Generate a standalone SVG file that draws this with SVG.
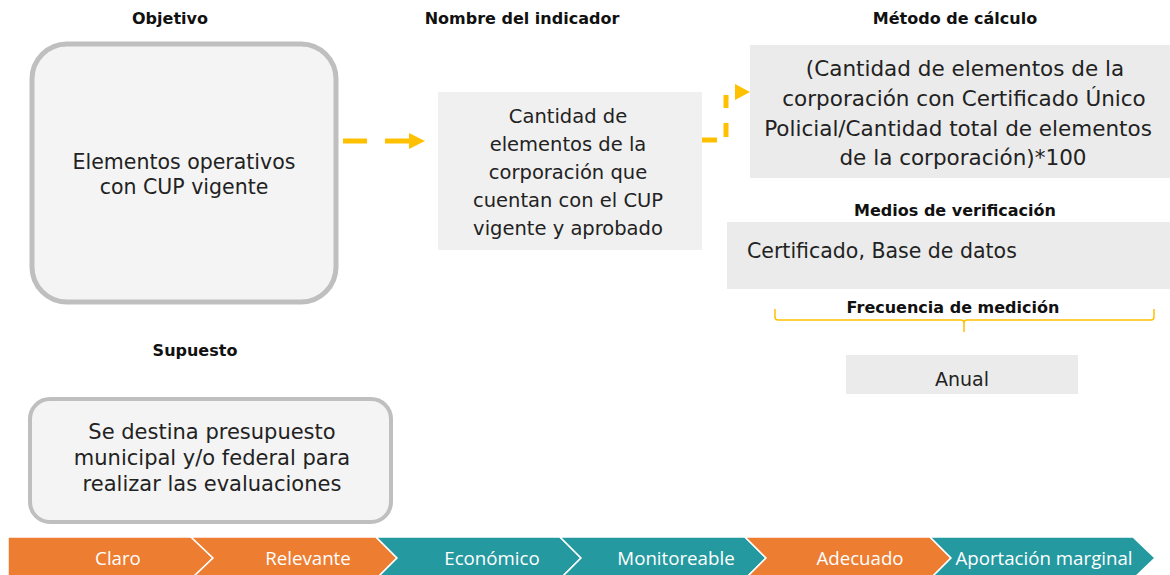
<svg xmlns="http://www.w3.org/2000/svg" width="1170" height="575" viewBox="0 0 1170 575">
<style>
.h{font-family:"DejaVu Sans","Liberation Sans",sans-serif;font-weight:bold;font-size:16px;fill:#111;text-anchor:middle}
.t{font-family:"DejaVu Sans","Liberation Sans",sans-serif;font-size:19.5px;fill:#222;text-anchor:middle}
.c{font-family:"Open Sans","Liberation Sans",sans-serif;font-size:18.7px;fill:#fff;text-anchor:middle}
.rbox{fill:#f4f4f4;stroke:#bfbfbf;stroke-width:5}
.conn{stroke:#FFC000;stroke-width:5;fill:none}
.orange{fill:#ED7D31;stroke:#fff;stroke-width:1.5}
.teal{fill:#2599A0;stroke:#fff;stroke-width:1.5}
</style>
<rect width="1170" height="575" fill="#fff"/>

<g id="objetivo">
<text class="h" x="170" y="24">Objetivo</text>
<rect class="rbox" x="32" y="44" width="304" height="258" rx="35"/>
<text class="t" x="184" y="169" style="font-size:20.5px">Elementos operativos</text>
<text class="t" x="184" y="194" style="font-size:20.5px">con CUP vigente</text>
</g>

<g id="indicador">
<text class="h" x="522" y="24">Nombre del indicador</text>
<rect x="438" y="92" width="264" height="158" fill="#f0f0f0"/>
<text class="t" x="568" y="123">Cantidad de</text>
<text class="t" x="568" y="151">elementos de la</text>
<text class="t" x="568" y="179">corporación que</text>
<text class="t" x="568" y="207">cuentan con el CUP</text>
<text class="t" x="568" y="235">vigente y aprobado</text>
</g>

<g id="metodo">
<text class="h" x="955" y="24">Método de cálculo</text>
<rect x="750" y="45" width="420" height="133" fill="#ebebeb"/>
<text class="t" x="965" y="76" style="font-size:21.5px">(Cantidad de elementos de la</text>
<text class="t" x="964" y="106" style="font-size:21.5px">corporación con Certificado Único</text>
<text class="t" x="958" y="136" style="font-size:21.5px">Policial/Cantidad total de elementos</text>
<text class="t" x="963" y="165" style="font-size:21.5px">de la corporación)*100</text>
</g>

<g id="medios">
<text class="h" x="955" y="216">Medios de verificación</text>
<rect x="727" y="222" width="443" height="67" fill="#ebebeb"/>
<text class="t" x="747" y="258" style="text-anchor:start;font-size:20.5px">Certificado, Base de datos</text>
</g>

<g id="frecuencia">
<text class="h" x="953" y="313">Frecuencia de medición</text>
<path d="M775,309 V317 Q775,320 778,320 H961 Q964,320 964,323 V332 M964,323 Q964,320 967,320 H1151 Q1154,320 1154,317 V309" fill="none" stroke="#FFC000" stroke-width="1.5"/>
<rect x="846" y="355" width="232" height="39" fill="#ebebeb"/>
<text class="t" x="962" y="386" style="font-size:19px">Anual</text>
</g>

<g id="supuesto">
<text class="h" x="195" y="356">Supuesto</text>
<rect class="rbox" x="30" y="399" width="361" height="123" rx="20" style="stroke-width:4"/>
<text class="t" x="212" y="439" style="font-size:21px">Se destina presupuesto</text>
<text class="t" x="212" y="465" style="font-size:21px">municipal y/o federal para</text>
<text class="t" x="212" y="491" style="font-size:21px">realizar las evaluaciones</text>
</g>

<g id="connectors">
<path class="conn" d="M343,141 H367 M385,141 H410"/>
<path d="M409,133 L425,141 L409,149 Z" fill="#FFC000"/>
<path class="conn" d="M702,140 H717 M726,137 V123 M726,108 V95"/>
<path d="M735,84 L750,92 L735,100 Z" fill="#FFC000"/>
</g>

<g id="criterios">
<g id="claro"><path class="orange" d="M8,537 H191 L213,558 L191,579 H8 Z"/><text class="c" x="118" y="565">Claro</text></g>
<g id="relevante"><path class="orange" d="M191,537 H376 L397,558 L376,579 H191 L213,558 Z"/><text class="c" x="308" y="565">Relevante</text></g>
<g id="economico"><path class="teal" d="M376,537 H560 L581,558 L560,579 H376 L397,558 Z"/><text class="c" x="492" y="565">Económico</text></g>
<g id="monitoreable"><path class="teal" d="M560,537 H745 L766,558 L745,579 H560 L581,558 Z"/><text class="c" x="676" y="565">Monitoreable</text></g>
<g id="adecuado"><path class="orange" d="M745,537 H930 L951,558 L930,579 H745 L766,558 Z"/><text class="c" x="860" y="565">Adecuado</text></g>
<g id="aportacion"><path class="teal" d="M930,537 H1133 L1155,558 L1133,579 H930 L951,558 Z"/><text class="c" x="1044" y="565">Aportación marginal</text></g>
</g>
</svg>
